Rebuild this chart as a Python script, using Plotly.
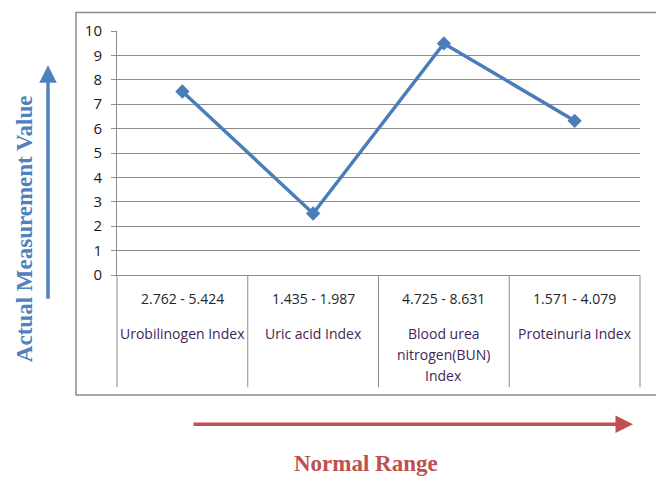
import plotly.graph_objects as go

categories = ["Urobilinogen Index", "Uric acid Index", "Blood urea nitrogen(BUN) Index", "Proteinuria Index"]
name_lines = [["Urobilinogen Index"], ["Uric acid Index"], ["Blood urea", "nitrogen(BUN)", "Index"], ["Proteinuria Index"]]
normal_ranges = ["2.762 - 5.424", "1.435 - 1.987", "4.725 - 8.631", "1.571 - 4.079"]
measured_values = [7.52, 2.52, 9.49, 6.32]
y_ticks = list(range(0, 11))

OFF = 8  # page body margin
W, H = 664 - OFF, 480 - OFF
L, R, T, B = 117, 640, 25, 275  # plot area bounds in reference pixels


def px(x):
    return (x - L) / (R - L)


def py(y):
    return (B - y) / (B - T)


n = len(categories)
xs = list(range(n))

fig = go.Figure()
fig.add_trace(go.Scatter(
    x=xs, y=measured_values, mode="lines+markers",
    line=dict(color="#4A7EBB", width=3.5),
    marker=dict(symbol="diamond", size=11, color="#4A7EBB"),
    cliponaxis=False, showlegend=False, hoverinfo="skip",
))

grid = "#8c8c8c"
shapes = [
    dict(type="rect", xref="paper", yref="paper", x0=px(76), x1=px(657), y0=py(398), y1=py(6),
         line=dict(color=grid, width=1.5), layer="below"),
]
for i in range(n + 1):
    shapes.append(dict(type="line", xref="x domain", yref="paper", x0=i / n, x1=i / n,
                       y0=py(390), y1=0, line=dict(color=grid, width=1)))

annotations = []
for i in range(n):
    annotations.append(dict(x=i, y=py(299), xref="x", yref="paper", text=normal_ranges[i],
                            showarrow=False, font=dict(size=14, color="#262626", family="Open Sans"),
                            xanchor="center", yanchor="middle"))
    for j, line in enumerate(name_lines[i]):
        annotations.append(dict(x=i, y=py(335 + 21.5 * j), xref="x", yref="paper", text=line,
                                showarrow=False, font=dict(size=14, color="#452455", family="Open Sans"),
                                xanchor="center", yanchor="middle"))

annotations.append(dict(x=px(24), y=py(228), xref="paper", yref="paper", text="<b>Actual Measurement Value</b>",
                        textangle=-90, showarrow=False, xanchor="center", yanchor="middle",
                        font=dict(size=23, color="#4F81BD", family="Liberation Serif")))
annotations.append(dict(x=px(48), y=py(60), xref="paper", yref="paper", text="", showarrow=True,
                        ax=0, ay=235, arrowhead=2, arrowsize=1, arrowwidth=3.5, arrowcolor="#4F81BD"))
annotations.append(dict(x=px(366), y=py(468), xref="paper", yref="paper", text="<b>Normal Range</b>",
                        showarrow=False, xanchor="center", yanchor="middle",
                        font=dict(size=23, color="#C0504D", family="Liberation Serif")))
annotations.append(dict(x=px(633), y=py(428), xref="paper", yref="paper", text="", showarrow=True,
                        ax=-441, ay=0, arrowhead=2, arrowsize=1, arrowwidth=3.5, arrowcolor="#C0504D"))

fig.update_layout(
    width=W, height=H,
    margin=dict(l=L - OFF, r=W - (R - OFF), t=T - OFF, b=H - (B - OFF), pad=0),
    paper_bgcolor="white", plot_bgcolor="white",
    shapes=shapes, annotations=annotations,
    xaxis=dict(range=[-0.5, n - 0.5], showticklabels=False, showgrid=False, zeroline=False,
               showline=True, linecolor=grid, linewidth=1, ticks="", fixedrange=True),
    yaxis=dict(range=[0, 10], tickvals=y_ticks, showgrid=True, gridcolor=grid, gridwidth=1,
               zeroline=False, showline=True, linecolor=grid, linewidth=1,
               ticks="outside", ticklen=5, tickcolor=grid, ticklabelstandoff=6,
               tickfont=dict(size=15, color="#1a1a1a", family="Open Sans"), fixedrange=True),
    font=dict(family="Open Sans"),
)

fig.write_html("out.html")
